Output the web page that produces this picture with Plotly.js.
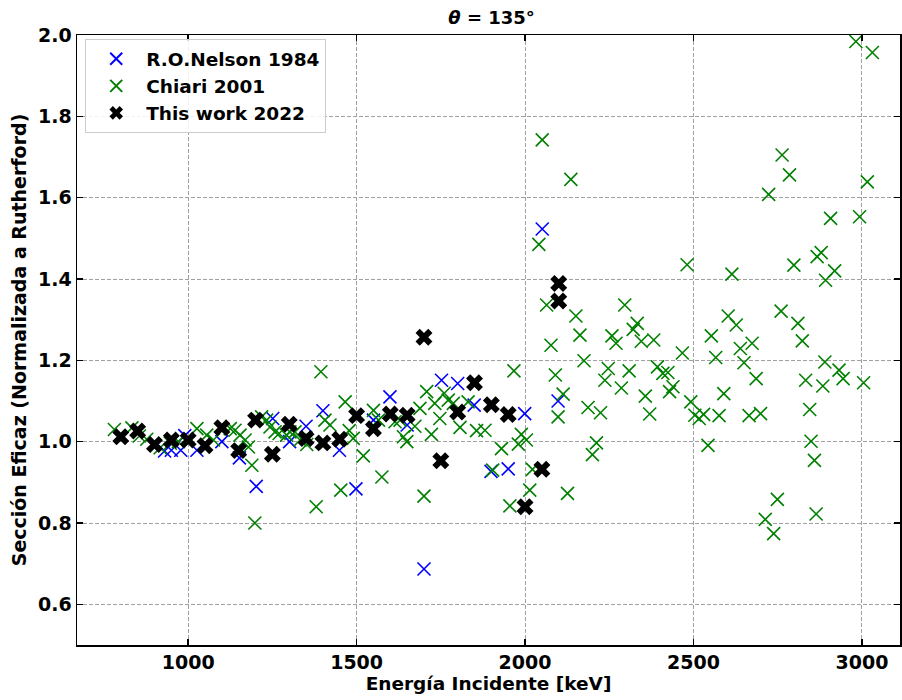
<!DOCTYPE html>
<html>
<head>
<meta charset="utf-8">
<script src="https://cdn.plot.ly/plotly-3.0.1.min.js"></script>
<style>html,body{margin:0;padding:0;background:#fff;}#chart{width:902px;height:700px;}</style>
</head>
<body>
<div id="chart"></div>
<script>
// R.O.Nelson 1984
const nelsonE = [930, 950, 978, 990, 1026, 1100, 1152, 1202, 1251, 1301, 1350, 1400, 1449, 1498, 1550, 1599, 1650, 1700, 1752, 1800, 1849, 1899, 1950, 1999, 2051, 2098];
const nelsonY = [0.977, 0.979, 0.979, 1.015, 0.979, 1.000, 0.960, 0.890, 1.057, 1.000, 1.038, 1.076, 0.979, 0.884, 1.053, 1.110, 1.041, 0.687, 1.151, 1.143, 1.090, 0.927, 0.933, 1.069, 1.523, 1.100];

// Chiari 2001
const chiariE = [781, 833, 855, 877, 917, 947, 971, 1026, 1055, 1075, 1125, 1139, 1154, 1169, 1179, 1189, 1198, 1218, 1233, 1243, 1258, 1270, 1292, 1302, 1317, 1332, 1352, 1380, 1394, 1406, 1421, 1453, 1466, 1478, 1490, 1520, 1550, 1565, 1575, 1614, 1629, 1639, 1649, 1673, 1688, 1700, 1708, 1722, 1732, 1747, 1760, 1772, 1787, 1807, 1831, 1856, 1881, 1904, 1930, 1955, 1967, 1980, 1989, 2004, 2014, 2022, 2041, 2051, 2064, 2077, 2090, 2098, 2113, 2126, 2136, 2151, 2163, 2175, 2187, 2200, 2212, 2224, 2237, 2247, 2258, 2270, 2286, 2296, 2309, 2321, 2333, 2345, 2357, 2370, 2382, 2393, 2409, 2424, 2429, 2439, 2467, 2481, 2492, 2504, 2517, 2530, 2543, 2553, 2566, 2576, 2590, 2603, 2614, 2627, 2639, 2650, 2665, 2674, 2686, 2699, 2713, 2723, 2738, 2749, 2760, 2763, 2785, 2798, 2810, 2823, 2833, 2845, 2849, 2859, 2864, 2867, 2879, 2884, 2890, 2892, 2907, 2919, 2932, 2944, 2982, 2993, 3005, 3016, 3031];
const chiariY = [1.030, 1.034, 1.014, 1.006, 0.985, 0.996, 1.000, 1.032, 1.016, 1.004, 1.032, 1.028, 1.016, 1.004, 0.987, 0.942, 0.800, 1.061, 1.053, 1.036, 1.024, 1.020, 1.016, 1.024, 1.024, 1.004, 0.993, 0.840, 1.172, 1.053, 1.041, 0.881, 1.098, 1.027, 1.008, 0.965, 1.077, 1.053, 0.913, 1.049, 1.053, 1.012, 1.000, 1.038, 1.082, 0.866, 1.123, 1.018, 1.094, 1.057, 1.119, 1.102, 1.094, 1.035, 1.098, 1.027, 1.028, 0.930, 0.983, 0.842, 1.174, 0.994, 1.018, 1.004, 0.881, 0.932, 1.485, 1.742, 1.336, 1.237, 1.164, 1.061, 1.117, 0.873, 1.645, 1.309, 1.262, 1.199, 1.084, 0.968, 0.997, 1.071, 1.151, 1.180, 1.260, 1.242, 1.132, 1.336, 1.174, 1.276, 1.291, 1.247, 1.112, 1.068, 1.250, 1.184, 1.168, 1.170, 1.123, 1.135, 1.218, 1.435, 1.098, 1.065, 1.057, 1.067, 0.991, 1.260, 1.207, 1.064, 1.118, 1.309, 1.412, 1.287, 1.229, 1.194, 1.064, 1.242, 1.155, 1.069, 0.809, 1.608, 0.774, 0.858, 1.321, 1.705, 1.656, 1.434, 1.291, 1.248, 1.151, 1.079, 1.001, 0.954, 0.822, 1.455, 1.465, 1.137, 1.196, 1.397, 1.549, 1.420, 1.176, 1.155, 1.984, 1.553, 1.145, 1.639, 1.957];

// This work 2022
const thisE = [800, 850, 900, 950, 1000, 1050, 1100, 1150, 1200, 1250, 1300, 1350, 1400, 1450, 1500, 1550, 1600, 1650, 1700, 1750, 1800, 1850, 1900, 1950, 2000, 2050, 2100, 2100];
const thisY = [1.012, 1.026, 0.993, 1.004, 1.004, 0.990, 1.034, 0.978, 1.053, 0.969, 1.043, 1.008, 0.997, 1.006, 1.064, 1.032, 1.068, 1.065, 1.257, 0.953, 1.073, 1.145, 1.091, 1.067, 0.840, 0.932, 1.389, 1.346];

const xTicks = [1000, 1500, 2000, 2500, 3000];
const yTicks = [0.6, 0.8, 1.0, 1.2, 1.4, 1.6, 1.8, 2.0];
const yTickText = yTicks.map(v => v.toFixed(1));

const traces = [
  {x: nelsonE, y: nelsonY, mode: 'markers', type: 'scatter', name: 'R.O.Nelson 1984',
   marker: {symbol: 'x-thin', size: 13, color: '#0000ff', line: {color: '#0000ff', width: 1.6}}},
  {x: chiariE, y: chiariY, mode: 'markers', type: 'scatter', name: 'Chiari 2001',
   marker: {symbol: 'x-thin', size: 13, color: '#008000', line: {color: '#008000', width: 1.6}}},
  {x: thisE, y: thisY, mode: 'markers', type: 'scatter', name: 'This work 2022',
   marker: {symbol: 'x', size: 15, color: '#000000', line: {width: 0}}}
];

const font = {family: 'DejaVu Sans', size: 18, color: '#000'};
const axisCommon = {
  showline: true, linecolor: '#000', linewidth: 1.5, mirror: 'ticks',
  ticks: 'inside', ticklen: 6, tickwidth: 1.5, tickcolor: '#000',
  showgrid: true, gridcolor: '#a0a0a0', griddash: '4px,2px', gridwidth: 1,
  zeroline: false,
  tickfont: {family: 'DejaVu Sans', size: 19, color: '#000', weight: 'bold'}
};

const layout = {
  width: 902, height: 700,
  margin: {l: 77, r: 2, t: 35, b: 55},
  paper_bgcolor: '#fff', plot_bgcolor: '#fff',
  font: font,
  title: {text: '<b><i>θ</i> = 135°</b>', font: {family: 'DejaVu Sans', size: 18, color: '#000'},
          x: 0.545, xanchor: 'center', y: 0.975, yanchor: 'middle'},
  xaxis: Object.assign({}, axisCommon, {
    range: [670, 3113], tickvals: xTicks, ticktext: xTicks.map(String),
    title: {text: '<b>Energía Incidente [keV]</b>', font: {family: 'DejaVu Sans', size: 18.5, color: '#000'}, standoff: 4}
  }),
  yaxis: Object.assign({}, axisCommon, {
    range: [0.5, 2.0], tickvals: yTicks, ticktext: yTickText,
    title: {text: '<b>Sección Eficaz (Normalizada a Rutherford)</b>', font: {family: 'DejaVu Sans', size: 19, color: '#000'}, standoff: 6}
  }),
  legend: {
    x: 0.01, y: 0.993, xanchor: 'left', yanchor: 'top',
    bgcolor: 'rgba(255,255,255,0.85)', bordercolor: '#cccccc', borderwidth: 1,
    font: {family: 'DejaVu Sans', size: 18.5, color: '#000', weight: 'bold'},
    itemsizing: 'constant', itemwidth: 50, tracegroupgap: 4
  },
  showlegend: true
};

Plotly.newPlot('chart', traces, layout, {displayModeBar: false, staticPlot: true});
</script>
</body>
</html>
